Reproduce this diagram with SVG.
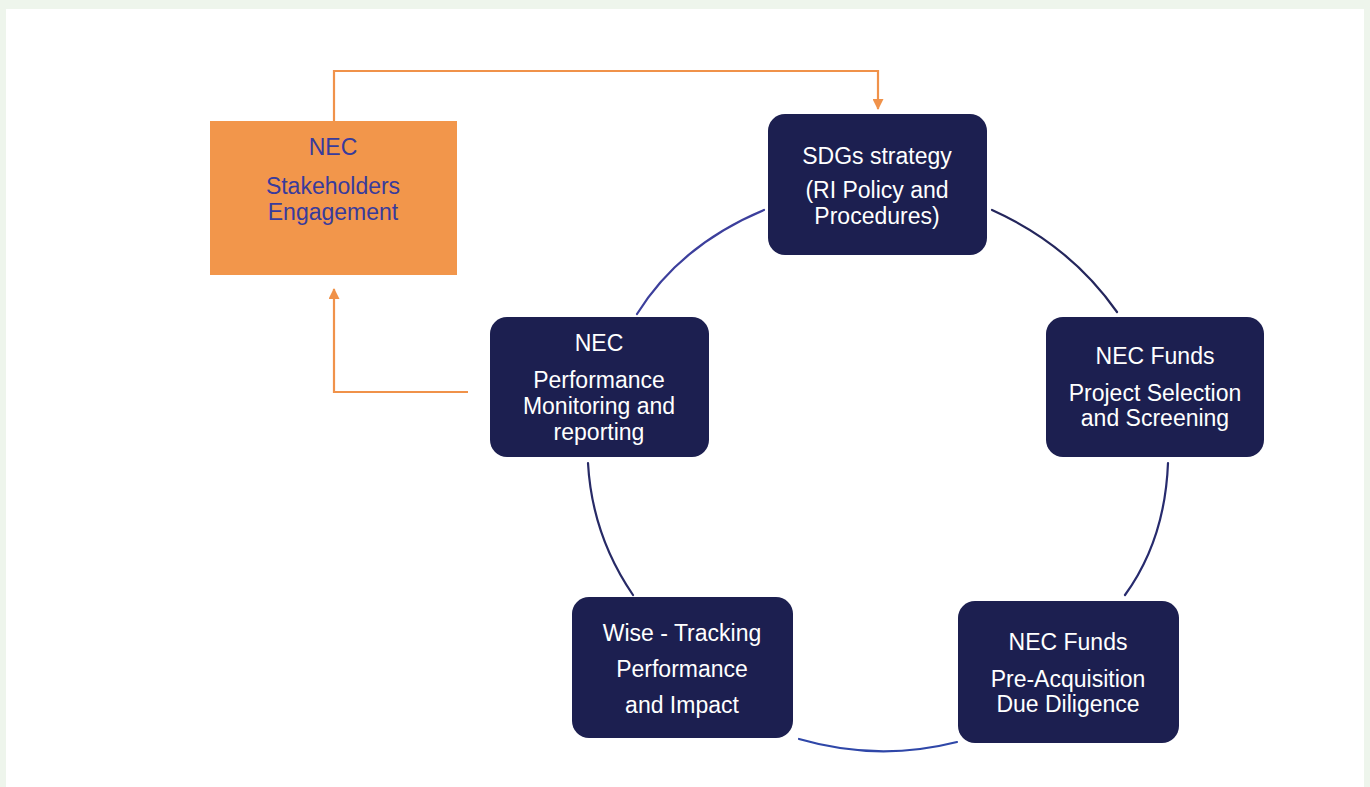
<svg xmlns="http://www.w3.org/2000/svg" width="1370" height="787" viewBox="0 0 1370 787">
  <defs>
    <marker id="arrowOrange" viewBox="0 0 10 10" refX="9" refY="5" markerWidth="12" markerHeight="11" markerUnits="userSpaceOnUse" orient="auto">
      <path d="M0,0 L10,5 L0,10 Z" fill="#f0924a"/>
    </marker>
    <style>
      .node { fill: #1c1f50; }
      .label { font-family: "Liberation Sans", Arial, sans-serif; font-size: 23px; fill: #ffffff; text-anchor: middle; }
      .label-dark { font-family: "Liberation Sans", Arial, sans-serif; font-size: 23px; fill: #383b9c; text-anchor: middle; }
      .flow { fill: none; stroke: #f0924a; stroke-width: 2.2; }
      .cycle { fill: none; stroke-width: 2.2; stroke-linecap: round; }
    </style>
  </defs>

  <!-- page frame -->
  <rect x="0" y="0" width="1370" height="787" fill="#eef5ec"/>
  <rect x="6" y="9" width="1358" height="778" fill="#ffffff"/>

  <!-- connectors -->
  <g id="connectors">
    <path class="flow" d="M334,121 V71 H878 V109" marker-end="url(#arrowOrange)"/>
    <path class="flow" d="M468,392 H334 V289" marker-end="url(#arrowOrange)"/>
    <path class="cycle" stroke="#3c3f9c" d="M764,210 Q680,245 637,314"/>
    <path class="cycle" stroke="#24265c" d="M992,210 Q1070,245 1117,312"/>
    <path class="cycle" stroke="#272b6e" d="M1168,463 Q1165,540 1125,595"/>
    <path class="cycle" stroke="#2f47a8" d="M957,742 Q878,762 799,739"/>
    <path class="cycle" stroke="#272a66" d="M633,595 Q592,535 588,463"/>
  </g>

  <!-- stakeholder engagement -->
  <g id="node-stakeholders">
    <rect x="210" y="121" width="247" height="154" fill="#f2964b"/>
    <text class="label-dark" x="333" y="155">NEC</text>
    <text class="label-dark" x="333" y="194">Stakeholders</text>
    <text class="label-dark" x="333" y="220">Engagement</text>
  </g>

  <g id="node-sdgs">
    <rect class="node" x="768" y="114" width="219" height="141" rx="17"/>
    <text class="label" x="877" y="164">SDGs strategy</text>
    <text class="label" x="877" y="198">(RI Policy and</text>
    <text class="label" x="877" y="224">Procedures)</text>
  </g>

  <g id="node-selection">
    <rect class="node" x="1046" y="317" width="218" height="140" rx="17"/>
    <text class="label" x="1155" y="364">NEC Funds</text>
    <text class="label" x="1155" y="401">Project Selection</text>
    <text class="label" x="1155" y="426">and Screening</text>
  </g>

  <g id="node-due-diligence">
    <rect class="node" x="958" y="601" width="221" height="142" rx="17"/>
    <text class="label" x="1068" y="650">NEC Funds</text>
    <text class="label" x="1068" y="687">Pre-Acquisition</text>
    <text class="label" x="1068" y="712">Due Diligence</text>
  </g>

  <g id="node-wise">
    <rect class="node" x="572" y="597" width="221" height="141" rx="17"/>
    <text class="label" x="682" y="641">Wise - Tracking</text>
    <text class="label" x="682" y="677">Performance</text>
    <text class="label" x="682" y="713">and Impact</text>
  </g>

  <g id="node-monitoring">
    <rect class="node" x="490" y="317" width="219" height="140" rx="17"/>
    <text class="label" x="599" y="351">NEC</text>
    <text class="label" x="599" y="388">Performance</text>
    <text class="label" x="599" y="414">Monitoring and</text>
    <text class="label" x="599" y="440">reporting</text>
  </g>
</svg>
